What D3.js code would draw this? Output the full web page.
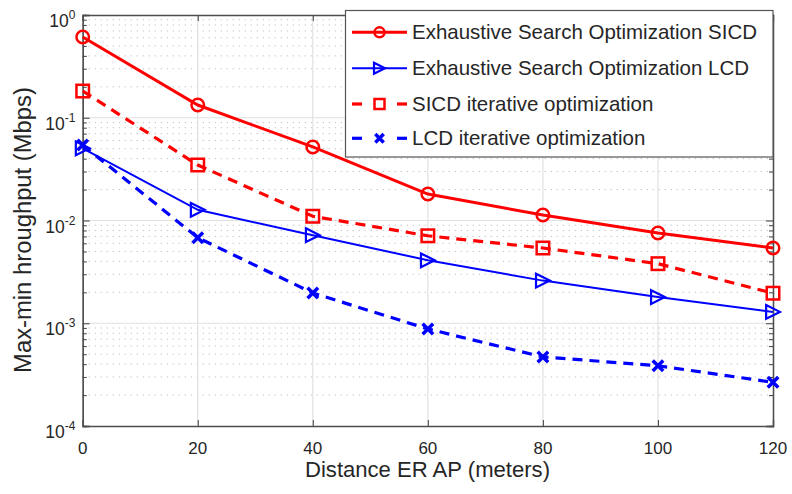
<!DOCTYPE html>
<html>
<head>
<meta charset="utf-8">
<script src="https://cdn.jsdelivr.net/npm/d3@7"></script>
<style>
  html, body { margin: 0; padding: 0; background: #fff; }
  svg { display: block; font-family: "Liberation Sans", Arial, sans-serif; }
</style>
</head>
<body>
<svg id="chart" width="792" height="494"></svg>
<script>
// Distance between ER and AP (meters)
const distances = [0, 20, 40, 60, 80, 100, 120];

// Max-min throughput (Mbps) for each scheme
const exhaustiveSICD = [0.61, 0.133, 0.052, 0.0181, 0.0113, 0.00755, 0.0054];
const exhaustiveLCD  = [0.0504, 0.0127, 0.0072, 0.0041, 0.0026, 0.0018, 0.00129];
const iterativeSICD  = [0.182, 0.0347, 0.0110, 0.0071, 0.0054, 0.0038, 0.00196];
const iterativeLCD   = [0.0543, 0.0068, 0.00197, 0.00088, 0.00047, 0.000386, 0.000266];

const xTicks = [0, 20, 40, 60, 80, 100, 120];
const yDecades = [-4, -3, -2, -1, 0];

const seriesNames = [
  "Exhaustive Search Optimization SICD",
  "Exhaustive Search Optimization LCD",
  "SICD iterative optimization",
  "LCD iterative optimization"
];

const series = [
  { name: seriesNames[0], values: exhaustiveSICD, color: "#ff0000", dash: null, marker: "circle" },
  { name: seriesNames[1], values: exhaustiveLCD,  color: "#0000ff", dash: null, marker: "triangle" },
  { name: seriesNames[2], values: iterativeSICD,  color: "#ff0000", dash: "10,7", marker: "square" },
  { name: seriesNames[3], values: iterativeLCD,   color: "#0000ff", dash: "10,7", marker: "cross" }
];

const svg = d3.select("#chart");
const pLeft = 82.7, pRight = 773, pTop = 15, pBottom = 426;
const textColor = "#262626";
const axisColor = "#4d4d4d";

const x = d3.scaleLinear().domain([0, 120]).range([pLeft, pRight]);
const y = d3.scaleLog().domain([1e-4, 1]).range([pBottom, pTop]);

// scale a text's font size so that it spans the given width
function fitWidth(sel, width) {
  const node = sel.node();
  const size = parseFloat(sel.attr("font-size"));
  const w = node.getComputedTextLength();
  if (w > 0) sel.attr("font-size", (size * width / w).toFixed(2));
  return sel;
}

// background
svg.append("rect").attr("x", pLeft).attr("y", pTop)
  .attr("width", pRight - pLeft).attr("height", pBottom - pTop).attr("fill", "#fff");

// minor values in each decade
const minorVals = [];
for (let e = -4; e < 0; e++) for (let m = 2; m <= 9; m++) minorVals.push(m * Math.pow(10, e));

const grid = svg.append("g");
grid.selectAll("line.minor").data(minorVals).join("line")
  .attr("class", "minor")
  .attr("x1", pLeft).attr("x2", pRight)
  .attr("y1", d => y(d)).attr("y2", d => y(d))
  .attr("stroke", "#c4c4c4").attr("stroke-width", 1)
  .attr("stroke-dasharray", "1.3,4.7");
grid.selectAll("line.hmajor").data(yDecades.slice(1, -1)).join("line")
  .attr("class", "hmajor")
  .attr("x1", pLeft).attr("x2", pRight)
  .attr("y1", d => y(Math.pow(10, d))).attr("y2", d => y(Math.pow(10, d)))
  .attr("stroke", "#e0e0e0").attr("stroke-width", 1.2);
grid.selectAll("line.vmajor").data(xTicks.slice(1, -1)).join("line")
  .attr("class", "vmajor")
  .attr("x1", d => x(d)).attr("x2", d => x(d))
  .attr("y1", pTop).attr("y2", pBottom)
  .attr("stroke", "#e0e0e0").attr("stroke-width", 1.2);

// axes with inward ticks on all four sides
const xAxisB = d3.axisBottom(x).tickValues(xTicks).tickSize(-6).tickFormat("");
const xAxisT = d3.axisTop(x).tickValues(xTicks).tickSize(-6).tickFormat("");
const yMajor = yDecades.map(e => Math.pow(10, e));
const yAxisL = d3.axisLeft(y).tickValues(yMajor).tickSize(-7).tickFormat("");
const yAxisR = d3.axisRight(y).tickValues(yMajor).tickSize(-7).tickFormat("");
const yMinorL = d3.axisLeft(y).tickValues(minorVals).tickSize(-4).tickFormat("");
const yMinorR = d3.axisRight(y).tickValues(minorVals).tickSize(-4).tickFormat("");

function styleAxis(g) {
  g.selectAll("path").attr("stroke", axisColor).attr("stroke-width", 1.3);
  g.selectAll("line").attr("stroke", axisColor).attr("stroke-width", 1.1);
}
svg.append("g").attr("transform", `translate(0,${pBottom})`).call(xAxisB).call(styleAxis);
svg.append("g").attr("transform", `translate(0,${pTop})`).call(xAxisT).call(styleAxis);
svg.append("g").attr("transform", `translate(${pLeft},0)`).call(yAxisL).call(styleAxis);
svg.append("g").attr("transform", `translate(${pRight},0)`).call(yAxisR).call(styleAxis);
svg.append("g").attr("transform", `translate(${pLeft},0)`).call(yMinorL).call(styleAxis);
svg.append("g").attr("transform", `translate(${pRight},0)`).call(yMinorR).call(styleAxis);

// x tick labels
svg.append("g").selectAll("text").data(xTicks).join("text")
  .attr("x", d => x(d)).attr("y", 454)
  .attr("text-anchor", "middle")
  .attr("font-size", 17).attr("fill", textColor)
  .text(d => d);

// y tick labels as powers of ten
const yl = svg.append("g").selectAll("text").data(yDecades).join("text")
  .attr("x", 75.5).attr("y", d => y(Math.pow(10, d)) + 12)
  .attr("text-anchor", "end")
  .attr("font-size", 17.5).attr("fill", textColor);
yl.append("tspan").text("10");
yl.append("tspan").attr("dy", -8).attr("font-size", 12).text(d => d);

// axis titles
svg.append("text")
  .attr("x", 427.5).attr("y", 477)
  .attr("text-anchor", "middle").attr("font-size", 21).attr("fill", textColor)
  .text("Distance ER AP (meters)")
  .call(fitWidth, 245);
svg.append("text")
  .attr("transform", `translate(31,230) rotate(-90)`)
  .attr("text-anchor", "middle").attr("font-size", 22).attr("fill", textColor)
  .text("Max-min hroughput (Mbps)")
  .call(fitWidth, 286);

// marker drawing
function drawMarker(g, type, color, s) {
  if (type === "circle") {
    g.append("circle").attr("r", s * 0.5).attr("fill", "none")
      .attr("stroke", color).attr("stroke-width", 2.5);
  } else if (type === "square") {
    g.append("rect").attr("x", -s / 2).attr("y", -s / 2).attr("width", s).attr("height", s)
      .attr("fill", "none").attr("stroke", color).attr("stroke-width", 2.5);
  } else if (type === "triangle") {
    const h = s * 0.55;
    g.append("path").attr("d", `M${-h},${-h} L${h},0 L${-h},${h} Z`)
      .attr("fill", "none").attr("stroke", color).attr("stroke-width", 2.2);
  } else if (type === "cross") {
    const h = s * 0.42;
    g.append("path").attr("d", `M${-h},${-h} L${h},${h} M${-h},${h} L${h},${-h}`)
      .attr("fill", "none").attr("stroke", color).attr("stroke-width", 3.5);
  }
}

const line = d3.line().x((d, i) => x(distances[i])).y(d => y(d));

const plot = svg.append("g");
series.forEach(s => {
  plot.append("path").datum(s.values)
    .attr("d", line)
    .attr("fill", "none").attr("stroke", s.color)
    .attr("stroke-width", s.dash ? 3.2 : (s.marker === "circle" ? 3 : 2))
    .attr("stroke-dasharray", s.dash);
  s.values.forEach((v, i) => {
    const g = plot.append("g").attr("transform", `translate(${x(distances[i])},${y(v)})`);
    drawMarker(g, s.marker, s.color, 12.5);
  });
});

// legend
const lg = svg.append("g");
lg.append("rect").attr("x", 345.5).attr("y", 10.5).attr("width", 427.5).attr("height", 146.5)
  .attr("fill", "#fff").attr("stroke", "#555").attr("stroke-width", 1.2);
const rowY = [32.3, 68.3, 104, 138.3];
let legendFont = null;
series.forEach((s, i) => {
  const g = lg.append("g").attr("transform", `translate(0,${rowY[i]})`);
  if (s.dash) {
    g.append("line").attr("x1", 352).attr("x2", 362).attr("y1", 0).attr("y2", 0)
      .attr("stroke", s.color).attr("stroke-width", 3.2);
    g.append("line").attr("x1", 397).attr("x2", 407).attr("y1", 0).attr("y2", 0)
      .attr("stroke", s.color).attr("stroke-width", 3.2);
  } else {
    g.append("line").attr("x1", 352).attr("x2", 407).attr("y1", 0).attr("y2", 0)
      .attr("stroke", s.color).attr("stroke-width", s.marker === "circle" ? 3 : 2);
  }
  const mg = g.append("g").attr("transform", "translate(379.5,0)");
  drawMarker(mg, s.marker, s.color, 10);
  const t = g.append("text").attr("x", 412).attr("y", 7).attr("font-size", 20)
    .attr("fill", textColor).text(s.name);
  if (i === 0) { fitWidth(t, 345); legendFont = t.attr("font-size"); }
  else t.attr("font-size", legendFont);
});
</script>
</body>
</html>
